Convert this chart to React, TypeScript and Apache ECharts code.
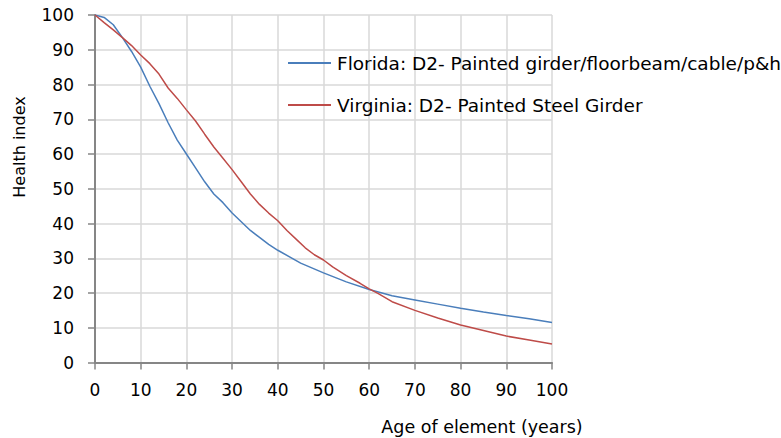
import React, { useEffect, useRef } from "react";
import * as echarts from "echarts";

const floridaAges = [0, 2, 4, 6, 8, 10, 12, 14, 16, 18, 20, 22, 24, 26, 28, 30, 32, 34, 36, 38, 40, 45, 50, 55, 60, 65, 70, 75, 80, 85, 90, 95, 100];
const floridaHealth = [100, 99.3, 97.2, 93.5, 89.5, 85, 79.5, 74.5, 69, 64, 60, 56, 52, 48.5, 46, 43, 40.5, 38, 36, 34, 32.3, 28.6, 25.8, 23.2, 21, 19.2, 18, 16.8, 15.6, 14.5, 13.5, 12.6, 11.5];

const virginiaAges = [0, 2, 4, 6, 8, 10, 12, 14, 16, 18, 20, 22, 24, 26, 28, 30, 32, 34, 36, 38, 40, 42, 44, 46, 48, 50, 52, 55, 58, 60, 62, 65, 70, 75, 80, 85, 90, 95, 100];
const virginiaHealth = [100, 97.8, 95.7, 93.5, 91.2, 88.5, 86, 83, 79, 76, 72.7, 69.5, 65.7, 62, 58.8, 55.5, 52, 48.5, 45.5, 43, 40.8, 38, 35.5, 33, 31, 29.5, 27.5, 25, 22.8, 21.2, 19.8, 17.5, 15, 12.8, 10.8, 9.2, 7.6, 6.5, 5.3];

const seriesNames = [
  "Florida: D2- Painted girder/floorbeam/cable/p&h",
  "Virginia: D2- Painted Steel Girder",
];
const yAxisTitle = "Health index";
const xAxisTitle = "Age of element (years)";

const FONT = "'DejaVu Sans', sans-serif";

export default function App() {
  const ref = useRef<HTMLDivElement>(null);
  useEffect(() => {
    document.body.style.margin = "0";
    const chart = echarts.init(ref.current!, null, { renderer: "svg" });
    const pair = (xs: number[], ys: number[]) => xs.map((x, i) => [x, ys[i]]);
    chart.setOption({
      animation: false,
      backgroundColor: "#ffffff",
      textStyle: { fontFamily: FONT },
      grid: { left: 95, right: 229, top: 15, bottom: 75.5 },
      legend: {
        orient: "vertical",
        left: 288,
        top: 53,
        padding: 0,
        itemWidth: 43,
        itemHeight: 2,
        itemGap: 22,
        icon: "rect",
        textStyle: { fontFamily: FONT, fontSize: 18.5, color: "#000", lineHeight: 20, padding: [0, 0, 0, 1] },
        data: seriesNames,
      },
      xAxis: {
        type: "value",
        min: 0,
        max: 100,
        interval: 10,
        axisLine: { show: true, lineStyle: { color: "#868686", width: 2 } },
        axisTick: { show: true, length: 7, lineStyle: { color: "#868686", width: 1.5 } },
        axisLabel: { fontFamily: FONT, fontSize: 17, color: "#000", margin: 19 },
        splitLine: { show: true, lineStyle: { color: "#d9d9d9", width: 1.5 } },
      },
      yAxis: {
        type: "value",
        min: 0,
        max: 100,
        interval: 10,
        axisLine: { show: true, lineStyle: { color: "#868686", width: 2 } },
        axisTick: { show: true, length: 7, lineStyle: { color: "#868686", width: 1.5 } },
        axisLabel: { fontFamily: FONT, fontSize: 17, color: "#000", margin: 21 },
        splitLine: { show: true, lineStyle: { color: "#d9d9d9", width: 1.5 } },
      },
      graphic: [
        {
          type: "text",
          x: 19,
          y: 147,
          rotation: Math.PI / 2,
          style: {
            text: yAxisTitle,
            fontFamily: FONT,
            fontSize: 16,
            fill: "#000",
            textAlign: "center",
            textVerticalAlign: "middle",
          },
        },
        {
          type: "text",
          x: 482,
          y: 427,
          style: {
            text: xAxisTitle,
            fontFamily: FONT,
            fontSize: 17.5,
            fill: "#000",
            textAlign: "center",
            textVerticalAlign: "middle",
          },
        },
      ],
      series: [
        {
          name: seriesNames[0],
          type: "line",
          data: pair(floridaAges, floridaHealth),
          showSymbol: false,
          symbol: "none",
          lineStyle: { color: "#4a7ebb", width: 1.5 },
          itemStyle: { color: "#4a7ebb" },
        },
        {
          name: seriesNames[1],
          type: "line",
          data: pair(virginiaAges, virginiaHealth),
          showSymbol: false,
          symbol: "none",
          lineStyle: { color: "#be4b48", width: 1.5 },
          itemStyle: { color: "#be4b48" },
        },
      ],
    });
    return () => chart.dispose();
  }, []);
  return <div ref={ref} style={{ width: 781, height: 438 }} />;
}
